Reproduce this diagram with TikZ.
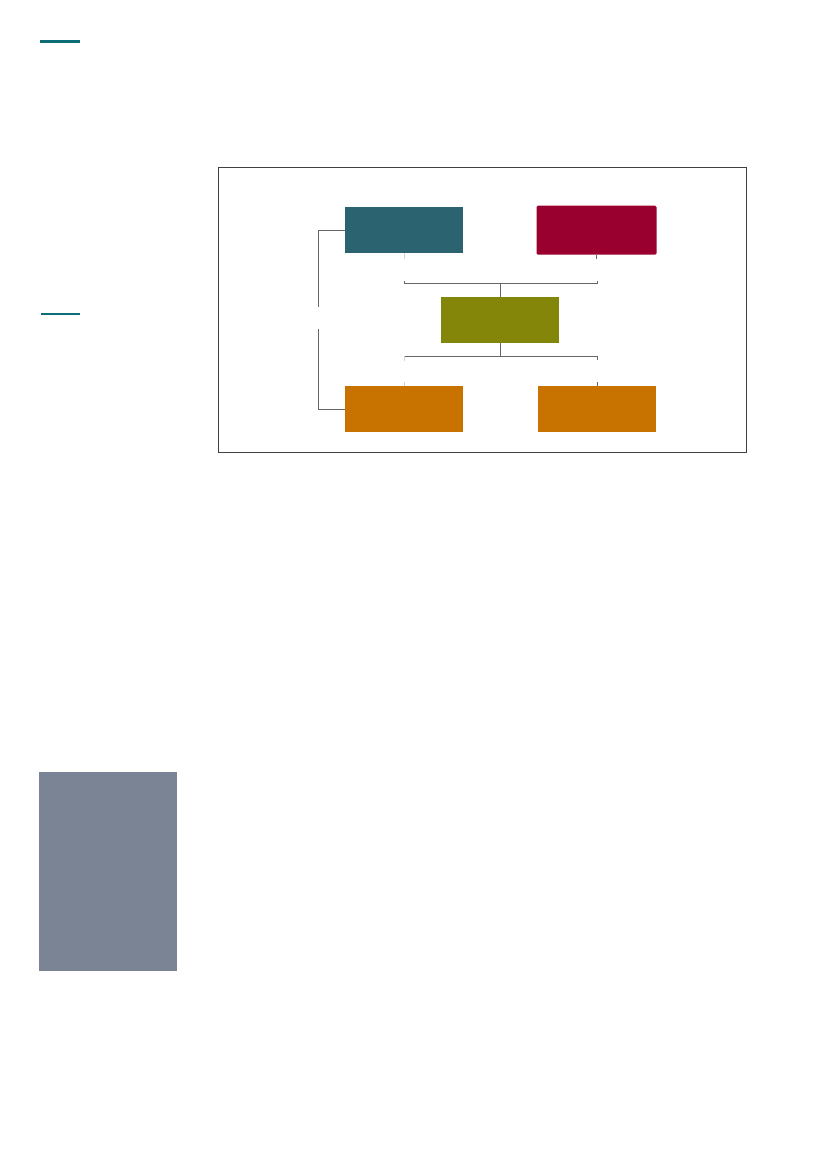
\documentclass[tikz,border=0pt]{standalone}
\usetikzlibrary{positioning}

\definecolor{petrol}{HTML}{0E6E78}
\definecolor{slate}{HTML}{7B8494}
\definecolor{teal2}{HTML}{2B6470}
\definecolor{wine}{HTML}{990030}
\definecolor{olive2}{HTML}{84860A}
\definecolor{amber}{HTML}{C87200}

\begin{document}
\begin{tikzpicture}[x=0.254mm, y=-0.254mm,
                       box/.style = {minimum width = 118*0.254mm, minimum height = 46*0.254mm,
                                     inner sep = 0pt, draw = none},
                       link/.style = {draw = gray!80!black, line width = .25pt},
                       stub/.style = {draw = gray!35, line width = .4pt}
                      ]
     \useasboundingbox (0,0) rectangle (827,1169);

     % page marks
     \fill[petrol] (40,40) rectangle (80,43);
     \fill[petrol] (41,313) rectangle (80,315);
     \fill[slate] (39,772) rectangle (177,971);

     % frame
     \draw[black!75, line width = .5pt] (218,167) rectangle (746,452);

     % boxes
     \node[box, fill = teal2] (origin) at (404,230) {};
     \node[box, fill = wine, rounded corners = 1pt,
           minimum width = 120*0.254mm, minimum height = 49*0.254mm] (target) at (596.5,230.2) {};
     \node[box, fill = olive2] (hub) at (500,320) {};
     \node[box, fill = amber] (outleft) at (404,409) {};
     \node[box, fill = amber] (outright) at (597,409) {};

     \coordinate (upL) at (404,283);
     \coordinate (upR) at (597,283);
     \coordinate (upM) at (500,283);
     \coordinate (dnL) at (404,356);
     \coordinate (dnR) at (597,356);
     \coordinate (dnM) at (500,356);
     \coordinate (sideT) at (318,230);
     \coordinate (sideA) at (318,307);
     \coordinate (sideB) at (318,329);
     \coordinate (sideD) at (318,409);

     % connectors
     \draw[stub] (origin.south) -- ++(0,6);
     \draw[link] (target.south) -- ++(0,4);
     \draw[link] (upL) ++(0,-1.5) -- (upL) -- (upR) -- ++(0,-1.5);
     \draw[link] (upM) -- (hub.north);
     \draw[link] (hub.south) -- (dnM);
     \draw[link] (dnL) -- (dnR);
     \draw[stub] (dnL) -- ++(0,5);
     \draw[link] (dnR) -- ++(0,4);
     \draw[stub] (outleft.north) -- ++(0,-4);
     \draw[link] (outright.north) -- ++(0,-4);
     \draw[link] (origin.west) -- (sideT) -- (sideA);
     \draw[link] (sideB) -- (sideD) -- (outleft.west);
\end{tikzpicture}
\end{document}
